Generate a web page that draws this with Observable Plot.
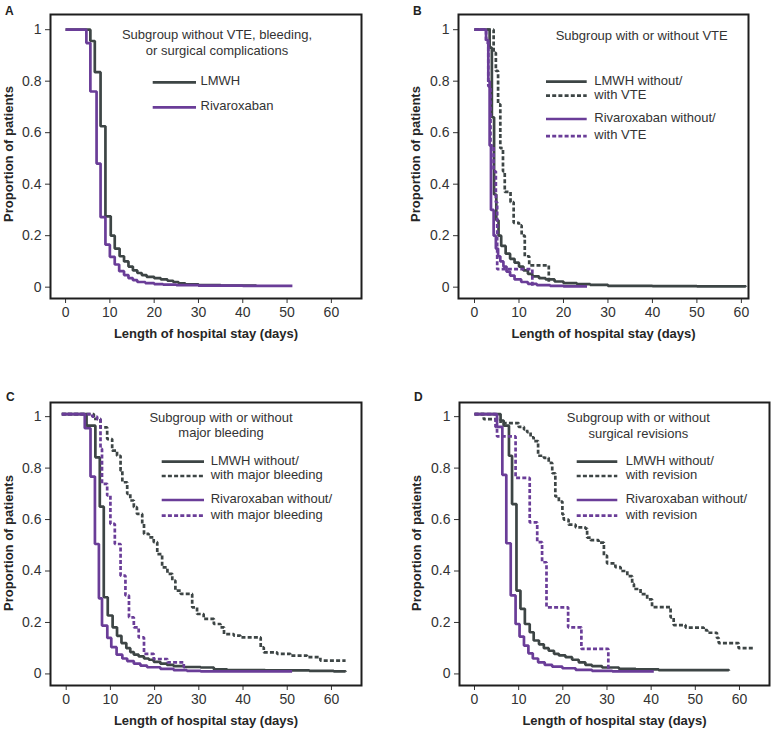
<!DOCTYPE html>
<html><head><meta charset="utf-8">
<script src="https://cdn.jsdelivr.net/npm/d3@7"></script>
<script src="https://cdn.jsdelivr.net/npm/@observablehq/plot@0.6"></script>
<style>
body{margin:0;background:#fff;}
#root{position:relative;width:771px;height:729px;font-family:Arial,"Liberation Sans",sans-serif;overflow:hidden;}
.panel{position:absolute;}
.panel svg{overflow:visible;}
#overlay{position:absolute;left:0;top:0;pointer-events:none;}
</style></head><body><div id="root"></div>
<script>
// ---------- data: [day, proportion] step points ----------
const A_lmwh = [[0,1],[5.6,0.956],[6.6,0.835],[7.9,0.625],[9.0,0.275],[10.2,0.2],[11.1,0.15],[12.2,0.12],[13.2,0.1],[14.2,0.08],[15.2,0.065],[16.2,0.055],[17.2,0.047],[18.3,0.04],[20,0.035],[21.5,0.03],[23,0.025],[24.3,0.02],[25.5,0.015],[27,0.011],[30,0.008],[35,0.006],[43.1,0.006]];
const A_riva = [[0,1],[4.7,0.948],[5.6,0.76],[7.0,0.48],[7.9,0.272],[9.0,0.165],[10.0,0.118],[11.1,0.088],[12.1,0.062],[13.2,0.047],[14.2,0.035],[15.2,0.027],[16.2,0.02],[18,0.016],[20,0.012],[22,0.01],[25,0.008],[30,0.006],[40,0.005],[51.2,0.005]];

const B_lmwhWithout = [[0,1],[3.4,0.93],[3.9,0.66],[4.4,0.36],[4.9,0.26],[5.4,0.2],[6.0,0.16],[7.0,0.13],[8.0,0.11],[9.0,0.095],[10.0,0.08],[11.0,0.065],[12.0,0.052],[13.0,0.042],[14.5,0.035],[16,0.03],[18,0.022],[20,0.016],[23,0.012],[26,0.009],[30,0.005],[40,0.004],[50,0.003],[61,0.002]];
const B_lmwhWith = [[0,1],[4.3,0.91],[4.8,0.84],[5.3,0.71],[5.8,0.54],[6.4,0.45],[6.8,0.37],[8.1,0.33],[8.8,0.25],[10.0,0.24],[10.6,0.2],[11.3,0.12],[12.3,0.085],[16.7,0.012]];
const B_rivaWithout = [[0,1],[2.6,0.96],[3.1,0.8],[3.4,0.55],[3.7,0.3],[4.3,0.2],[4.8,0.15],[5.3,0.12],[5.8,0.1],[6.5,0.08],[7.2,0.06],[8.0,0.045],[9.0,0.03],[10.5,0.02],[12,0.013],[14,0.008],[17,0.005],[20,0.003],[25.3,0.003]];
const B_rivaWith = [[0,1],[2.6,0.95],[3.1,0.78],[3.6,0.55],[4.3,0.45],[4.8,0.33],[5.1,0.07],[13,0.005]];

const C_lmwhWithout = [[-1,1.01],[4.6,0.965],[6.6,0.842],[7.6,0.65],[8.5,0.298],[9.4,0.227],[10.5,0.181],[11.5,0.148],[12.5,0.12],[13.6,0.1],[14.5,0.085],[15.3,0.075],[16.4,0.068],[17.6,0.06],[18.7,0.055],[19.8,0.047],[21.3,0.04],[22.8,0.035],[24.3,0.03],[26.6,0.027],[30.4,0.025],[33.4,0.018],[36.4,0.015],[45,0.014],[55,0.012],[60.5,0.01],[63.2,0.008]];
const C_lmwhWith = [[-1,1.01],[6.25,0.991],[7.76,0.958],[9.27,0.913],[10.4,0.868],[11.5,0.848],[12.3,0.79],[12.7,0.745],[13.8,0.70],[14.5,0.674],[15.3,0.648],[16.0,0.622],[17.2,0.583],[17.6,0.544],[18.7,0.531],[19.8,0.512],[20.6,0.466],[21.7,0.414],[22.9,0.389],[24.0,0.363],[24.7,0.324],[25.9,0.311],[28.5,0.259],[29.6,0.233],[31.1,0.214],[33.4,0.194],[34.9,0.181],[35.7,0.155],[37.9,0.149],[39.4,0.142],[44.0,0.103],[44.7,0.084],[47.7,0.078],[50.7,0.071],[54.5,0.065],[57.5,0.052],[63.2,0.052]];
const C_rivaWithout = [[-1,1.01],[4.2,0.955],[5.5,0.767],[6.5,0.505],[7.4,0.294],[8.1,0.188],[9.3,0.14],[10.2,0.104],[11.4,0.075],[12.7,0.06],[13.8,0.05],[15.3,0.04],[16.8,0.032],[18.3,0.026],[21.3,0.02],[24.3,0.015],[27.3,0.012],[30.4,0.01],[51.1,0.01]];
const C_rivaWith = [[-1,1.01],[5.9,1.0],[7.0,0.99],[7.76,0.875],[8.1,0.739],[9.27,0.694],[10.0,0.583],[11.0,0.505],[12.3,0.382],[13.4,0.305],[14.2,0.22],[15.3,0.181],[16.4,0.142],[17.6,0.078],[19.8,0.058],[22.9,0.045],[26.6,0.026],[27.2,0.026]];

const D_lmwhWithout = [[0,1.01],[5.9,0.985],[6.6,0.965],[7.8,0.848],[8.5,0.66],[9.5,0.324],[10.4,0.253],[11.4,0.194],[12.5,0.162],[13.4,0.13],[14.6,0.115],[15.7,0.1],[16.8,0.09],[18,0.078],[19.1,0.072],[20.6,0.065],[22.1,0.055],[23.6,0.045],[25.1,0.035],[26.6,0.03],[28.9,0.025],[32.7,0.02],[36.5,0.018],[41.7,0.015],[57.6,0.012]];
const D_lmwhWith = [[0,1.01],[2.1,0.99],[5.9,0.975],[10.0,0.96],[11.2,0.95],[11.9,0.94],[12.7,0.92],[13.4,0.905],[14.4,0.848],[15.7,0.84],[16.8,0.82],[17.6,0.78],[18.3,0.69],[19.1,0.67],[19.9,0.62],[20.2,0.6],[21.3,0.58],[22.9,0.57],[25.1,0.565],[25.5,0.53],[26.3,0.52],[28.1,0.51],[29.3,0.46],[30.0,0.43],[31.9,0.415],[33.1,0.4],[34.6,0.38],[35.7,0.35],[36.1,0.33],[37.6,0.31],[39.1,0.29],[40.2,0.26],[44.4,0.22],[45.1,0.19],[47.8,0.18],[51.9,0.17],[52.7,0.16],[54.9,0.14],[55.3,0.12],[59.8,0.1],[63.2,0.1]];
const D_rivaWithout = [[0,1.01],[5.1,0.96],[6.3,0.774],[7.2,0.508],[8.2,0.305],[9.3,0.194],[10.2,0.145],[11.2,0.11],[12.2,0.08],[13.2,0.06],[14.4,0.045],[15.9,0.035],[17.6,0.028],[19.9,0.022],[22.9,0.016],[26.6,0.012],[31.2,0.01],[40.6,0.01]];
const D_rivaWith = [[0,1.01],[4.75,0.96],[5.1,0.923],[9.3,0.762],[12.5,0.589],[14.2,0.512],[15.3,0.434],[16.3,0.259],[21.2,0.181],[24.2,0.097],[30.3,0.013]];

// ---------- text ----------
const panelLetters = ["A","B","C","D"];
const subtitles = [
  ["Subgroup without VTE, bleeding,","or surgical complications"],
  ["Subgroup with or without VTE"],
  ["Subgroup with or without","major bleeding"],
  ["Subgroup with or without","surgical revisions"]
];
const legendLabels = [
  ["LMWH","Rivaroxaban"],
  ["LMWH without/","with VTE","Rivaroxaban without/","with VTE"],
  ["LMWH without/","with major bleeding","Rivaroxaban without/","with major bleeding"],
  ["LMWH without/","with revision","Rivaroxaban without/","with revision"]
];
const xTicks = [0,10,20,30,40,50,60];
const yTicks = [0,0.2,0.4,0.6,0.8,1];
const xLabel = "Length of hospital stay (days)";
const yLabel = "Proportion of patients";

// ---------- styles ----------
const DARK = "#3d4545", PURPLE = "#6a3d98", DASH = "4,2.2", SW = 2.7;
const styleKeys = [
  {stroke: DARK, dash: null},
  {stroke: DARK, dash: DASH},
  {stroke: PURPLE, dash: null},
  {stroke: PURPLE, dash: DASH}
];

const panels = [
  {left:0, top:0, width:385, height:360, m:[14,24,62,50], xd:[-3.4,66.8], yd:[-0.044,1.059], ylab:[8.5,154],
   series:[[A_lmwh,styleKeys[0]],[A_riva,styleKeys[2]]],
   legendStyles:[styleKeys[0],styleKeys[2]], legRows:[82.3,107.3], legX:[152.7,196,200.5], title:{x:217,y:[34,50.7]}, letter:[5,6]},
  {left:385, top:0, width:386, height:360, m:[14,23,62,73], xd:[-3.6,61.6], yd:[-0.044,1.059], ylab:[415,154],
   series:[[B_lmwhWithout,styleKeys[0]],[B_lmwhWith,styleKeys[1]],[B_rivaWithout,styleKeys[2]],[B_rivaWith,styleKeys[3]]],
   legendStyles:styleKeys, legRows:[81.7,95.7,119,136.2], legX:[546,586.7,594.3], title:{x:641.7,y:[35]}, letter:[413,6]},
  {left:0, top:360, width:385, height:369, m:[42,24,44,50], xd:[-3.55,66.8], yd:[-0.045,1.055], ylab:[8.5,543],
   series:[[C_lmwhWithout,styleKeys[0]],[C_lmwhWith,styleKeys[1]],[C_rivaWithout,styleKeys[2]],[C_rivaWith,styleKeys[3]]],
   legendStyles:styleKeys, legRows:[461.7,476,500,515.7], legX:[161.7,204,210.7], title:{x:221,y:[417.3,432.7]}, letter:[6,392]},
  {left:385, top:360, width:386, height:369, m:[42,2,44,74], xd:[-3.4,66.8], yd:[-0.045,1.055], ylab:[416,543],
   series:[[D_lmwhWithout,styleKeys[0]],[D_lmwhWith,styleKeys[1]],[D_rivaWithout,styleKeys[2]],[D_rivaWith,styleKeys[3]]],
   legendStyles:styleKeys, legRows:[461.7,476,500,515.7], legX:[576.7,617.3,625.7], title:{x:638.3,y:[417,433]}, letter:[414,392]}
];

const root = document.getElementById("root");
const fmt = d => String(+d.toFixed(1));

panels.forEach((p) => {
  const [mt,mr,mb,ml] = p.m;
  const marks = [
    Plot.axisX({ticks: xTicks, tickSize: 5, tickPadding: 4, fontSize: 14, label: null, tickFormat: d => String(d)}),
    Plot.axisY({ticks: yTicks, tickSize: 5, tickPadding: 4, fontSize: 14, label: null, tickFormat: fmt}),
    ...p.series.map(([data, st]) => Plot.line(data, {
      x: d => d[0], y: d => d[1], curve: "step-after",
      stroke: st.stroke, strokeWidth: SW, strokeDasharray: st.dash || undefined,
      strokeLinejoin: "miter", strokeLinecap: "butt"
    })),
    Plot.frame({stroke: "#1e1e1e", strokeWidth: 2}),
    Plot.text([xLabel], {frameAnchor: "bottom", dy: 35, fontSize: 13, fontWeight: "bold", fill: "#262626", lineAnchor: "middle", textAnchor: "middle"})
  ];
  const chart = Plot.plot({
    width: p.width, height: p.height,
    marginTop: mt, marginRight: mr, marginBottom: mb, marginLeft: ml,
    x: {domain: p.xd},
    y: {domain: p.yd},
    style: {fontFamily: 'Arial, "Liberation Sans", sans-serif', color: "#333", background: "transparent", overflow: "visible"},
    marks
  });
  const div = document.createElement("div");
  div.className = "panel";
  div.style.left = p.left + "px";
  div.style.top = p.top + "px";
  div.appendChild(chart);
  root.appendChild(div);
});

// ---------- overlay: panel letters, y labels, subtitles, legends ----------
const ov = d3.select(root).append("svg").attr("id","overlay").attr("width",771).attr("height",729)
  .style("font-family",'Arial, "Liberation Sans", sans-serif');
panels.forEach((p, i) => {
  ov.append("text").attr("x", p.letter[0]).attr("y", p.letter[1]).attr("dy","0.71em")
    .attr("font-size",12).attr("font-weight","bold").attr("fill","#222").text(panelLetters[i]);
  ov.append("text").attr("transform", `translate(${p.ylab[0]},${p.ylab[1]}) rotate(-90)`)
    .attr("text-anchor","middle").attr("dy","0.36em")
    .attr("font-size",13).attr("font-weight","bold").attr("fill","#262626").text(yLabel);
  subtitles[i].forEach((line, j) => {
    ov.append("text").attr("x", p.title.x).attr("y", p.title.y[j]).attr("dy","0.35em")
      .attr("text-anchor","middle").attr("font-size",13).attr("fill","#333").text(line);
  });
  p.legendStyles.forEach((st, j) => {
    const y = p.legRows[j];
    ov.append("line").attr("x1", p.legX[0]).attr("x2", p.legX[1]).attr("y1", y).attr("y2", y)
      .attr("stroke", st.stroke).attr("stroke-width", SW).attr("stroke-dasharray", st.dash);
    ov.append("text").attr("x", p.legX[2]).attr("y", y - 1.5).attr("dy","0.35em")
      .attr("font-size",13).attr("fill","#333").text(legendLabels[i][j]);
  });
});
</script></body></html>
